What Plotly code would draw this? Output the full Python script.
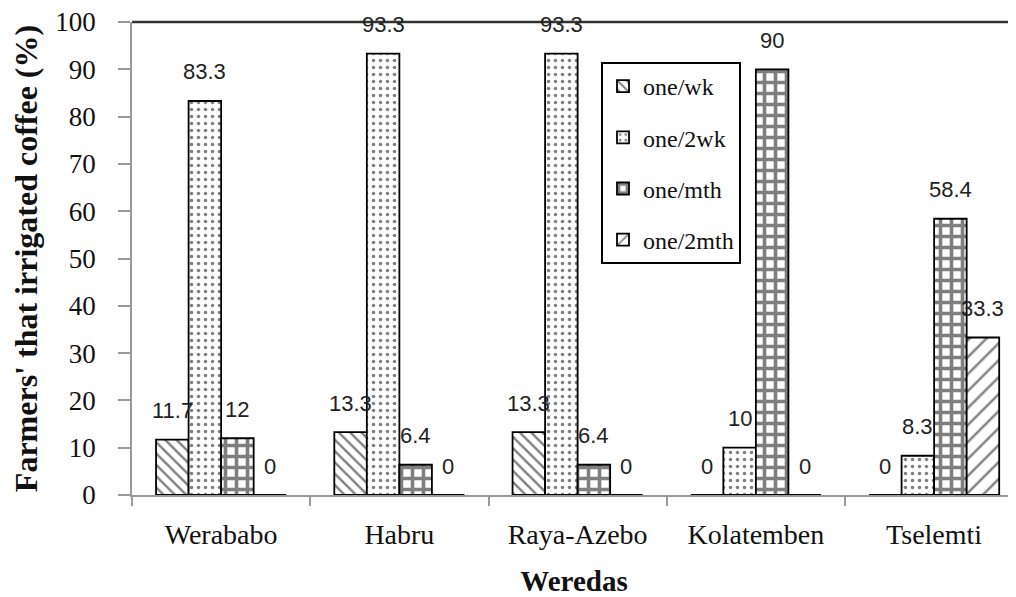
import plotly.graph_objects as go

categories = ["Werababo", "Habru", "Raya-Azebo", "Kolatemben", "Tselemti"]
series_names = ["one/wk", "one/2wk", "one/mth", "one/2mth"]
one_wk = [11.7, 13.3, 13.3, 0, 0]
one_2wk = [83.3, 93.3, 93.3, 10, 8.3]
one_mth = [12, 6.4, 6.4, 90, 58.4]
one_2mth = [0, 0, 0, 0, 33.3]
y_ticks = list(range(0, 101, 10))

SERIF = "Liberation Serif"
SANS = "Liberation Sans"

series_values = [one_wk, one_2wk, one_mth, one_2mth]
patterns = [
    dict(shape="\\", size=8, solidity=0.3, fgcolor="black", bgcolor="white", fillmode="overlay"),
    dict(shape=".", size=7, solidity=0.2, fgcolor="black", bgcolor="white", fillmode="overlay"),
    dict(shape="+", size=11, solidity=0.55, fgcolor="black", bgcolor="white", fillmode="overlay"),
    dict(shape="/", size=12, solidity=0.2, fgcolor="black", bgcolor="white", fillmode="overlay"),
]

BARGAP = 0.27
fig = go.Figure()
for i, (name, vals) in enumerate(zip(series_names, series_values)):
    fig.add_trace(go.Bar(
        x=categories, y=vals, name=name, legendgroup=name,
        marker=dict(color="white", pattern=patterns[i], line=dict(color="black", width=1.8)),
    ))

# data labels, placed above each bar
w = (1 - BARGAP) / len(series_names)
for i, vals in enumerate(series_values):
    for j, v in enumerate(vals):
        fig.add_annotation(
            x=j + (i - 1.5) * w, y=v, xref="x", yref="y",
            text=f"{v:g}", showarrow=False, yshift=29,
            font=dict(family=SANS, size=22, color="#222"),
        )

# page body has an 8px margin, so the figure is sized/placed accordingly
L, T, B = 124, 14, 102
W, H = 1008, 589
cat_w = 178.25
fig.add_shape(type="line", xref="paper", yref="paper", x0=0, x1=1, y0=1, y1=1,
              line=dict(color="#333", width=2.5))

fig.update_layout(
    width=W, height=H,
    margin=dict(l=L, r=0, t=T, b=B, autoexpand=False),
    paper_bgcolor="white", plot_bgcolor="white",
    barmode="group", bargap=BARGAP, bargroupgap=0,
    font=dict(family=SERIF, color="#111"),
    showlegend=True,
    legend=dict(
        x=(601 - 132) / (1016 - 132), y=(495 - 62) / (495 - 22), xanchor="left", yanchor="top",
        bgcolor="white", bordercolor="black", borderwidth=2,
        font=dict(family=SERIF, size=24, color="#111"),
        traceorder="grouped", tracegroupgap=17,
    ),
    xaxis=dict(
        type="category", range=[-0.5, -0.5 + (W - L) / cat_w], automargin=False,
        showline=True, linecolor="#999", linewidth=1.5,
        ticks="outside", tickson="boundaries", ticklen=9, tickcolor="#999", tickwidth=1.5,
        tickfont=dict(family=SERIF, size=28, color="#111"), ticklabelstandoff=14,
        title=dict(text="<b>Weredas</b>", font=dict(family=SERIF, size=29, color="#111"), standoff=28),
        showgrid=False, zeroline=False,
    ),
    yaxis=dict(
        range=[0, 100], tickvals=y_ticks, automargin=False, ticklabeloverflow="allow",
        showline=True, linecolor="#999", linewidth=1.5,
        ticks="outside", ticklen=12, tickcolor="#999", tickwidth=1.5,
        tickfont=dict(family=SERIF, size=27, color="#111"), ticklabelstandoff=17,
        title=dict(text="<b>Farmers' that irrigated coffee (%)</b>",
                   font=dict(family=SERIF, size=32, color="#111"), standoff=27),
        showgrid=False, zeroline=False,
    ),
)

fig.write_html("out.html")
